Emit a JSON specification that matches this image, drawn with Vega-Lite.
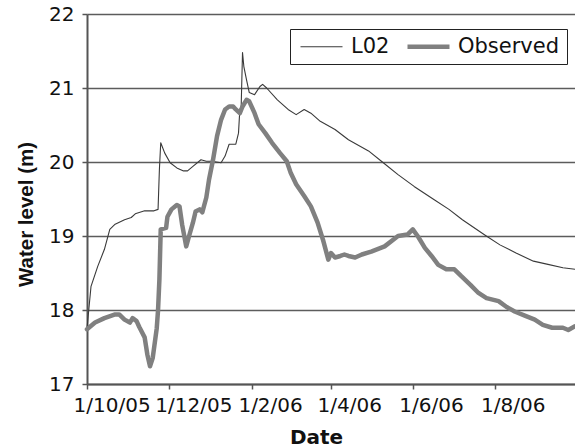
{
  "$schema": "https://vega.github.io/schema/vega-lite/v6.json",
  "width": 488,
  "height": 370,
  "autosize": "none",
  "padding": {"left": 87, "top": 14, "right": 0, "bottom": 63},
  "background": "white",
  "config": {
    "view": {"stroke": null},
    "legend": {
      "orient": "none",
      "legendX": 203,
      "legendY": 15,
      "direction": "horizontal",
      "labelFont": "DejaVu Sans",
      "labelFontSize": 21,
      "labelColor": "#111111",
      "symbolType": "M-1,0H5",
      "symbolSize": 196,
      "labelOffset": 33,
      "columnPadding": 8,
      "padding": 7,
      "strokeColor": "#222222",
      "fillColor": "white"
    }
  },
  "data": {
    "values": [
      {"date": "2005-10-01", "series": "L02", "level": 17.75},
      {"date": "2005-10-04", "series": "L02", "level": 18.32},
      {"date": "2005-10-09", "series": "L02", "level": 18.59},
      {"date": "2005-10-14", "series": "L02", "level": 18.82},
      {"date": "2005-10-18", "series": "L02", "level": 19.09},
      {"date": "2005-10-22", "series": "L02", "level": 19.16},
      {"date": "2005-10-29", "series": "L02", "level": 19.22},
      {"date": "2005-11-03", "series": "L02", "level": 19.25},
      {"date": "2005-11-06", "series": "L02", "level": 19.30},
      {"date": "2005-11-13", "series": "L02", "level": 19.34},
      {"date": "2005-11-20", "series": "L02", "level": 19.34},
      {"date": "2005-11-23", "series": "L02", "level": 19.36},
      {"date": "2005-11-24", "series": "L02", "level": 19.90},
      {"date": "2005-11-25", "series": "L02", "level": 20.26},
      {"date": "2005-11-28", "series": "L02", "level": 20.12},
      {"date": "2005-12-02", "series": "L02", "level": 19.99},
      {"date": "2005-12-07", "series": "L02", "level": 19.92},
      {"date": "2005-12-12", "series": "L02", "level": 19.88},
      {"date": "2005-12-15", "series": "L02", "level": 19.88},
      {"date": "2005-12-19", "series": "L02", "level": 19.94},
      {"date": "2005-12-25", "series": "L02", "level": 20.03},
      {"date": "2005-12-29", "series": "L02", "level": 20.01},
      {"date": "2006-01-02", "series": "L02", "level": 20.01},
      {"date": "2006-01-09", "series": "L02", "level": 19.99},
      {"date": "2006-01-12", "series": "L02", "level": 20.08},
      {"date": "2006-01-15", "series": "L02", "level": 20.24},
      {"date": "2006-01-20", "series": "L02", "level": 20.24},
      {"date": "2006-01-22", "series": "L02", "level": 20.39},
      {"date": "2006-01-23", "series": "L02", "level": 20.71},
      {"date": "2006-01-24", "series": "L02", "level": 20.75},
      {"date": "2006-01-25", "series": "L02", "level": 21.48},
      {"date": "2006-01-26", "series": "L02", "level": 21.29},
      {"date": "2006-01-28", "series": "L02", "level": 21.11},
      {"date": "2006-01-30", "series": "L02", "level": 20.94},
      {"date": "2006-02-03", "series": "L02", "level": 20.91},
      {"date": "2006-02-07", "series": "L02", "level": 21.02},
      {"date": "2006-02-09", "series": "L02", "level": 21.05},
      {"date": "2006-02-12", "series": "L02", "level": 21.00},
      {"date": "2006-02-20", "series": "L02", "level": 20.84},
      {"date": "2006-02-28", "series": "L02", "level": 20.71},
      {"date": "2006-03-06", "series": "L02", "level": 20.64},
      {"date": "2006-03-12", "series": "L02", "level": 20.71},
      {"date": "2006-03-17", "series": "L02", "level": 20.66},
      {"date": "2006-03-24", "series": "L02", "level": 20.55},
      {"date": "2006-03-31", "series": "L02", "level": 20.48},
      {"date": "2006-04-04", "series": "L02", "level": 20.44},
      {"date": "2006-04-14", "series": "L02", "level": 20.30},
      {"date": "2006-04-29", "series": "L02", "level": 20.15},
      {"date": "2006-05-10", "series": "L02", "level": 19.99},
      {"date": "2006-05-21", "series": "L02", "level": 19.83},
      {"date": "2006-06-02", "series": "L02", "level": 19.67},
      {"date": "2006-06-17", "series": "L02", "level": 19.49},
      {"date": "2006-06-28", "series": "L02", "level": 19.36},
      {"date": "2006-07-08", "series": "L02", "level": 19.22},
      {"date": "2006-07-25", "series": "L02", "level": 19.01},
      {"date": "2006-08-05", "series": "L02", "level": 18.88},
      {"date": "2006-08-17", "series": "L02", "level": 18.77},
      {"date": "2006-08-30", "series": "L02", "level": 18.66},
      {"date": "2006-09-09", "series": "L02", "level": 18.62},
      {"date": "2006-09-21", "series": "L02", "level": 18.57},
      {"date": "2006-09-30", "series": "L02", "level": 18.55},
      {"date": "2005-10-01", "series": "Observed", "level": 17.74},
      {"date": "2005-10-07", "series": "Observed", "level": 17.83},
      {"date": "2005-10-14", "series": "Observed", "level": 17.89},
      {"date": "2005-10-22", "series": "Observed", "level": 17.94},
      {"date": "2005-10-25", "series": "Observed", "level": 17.94},
      {"date": "2005-10-29", "series": "Observed", "level": 17.87},
      {"date": "2005-11-02", "series": "Observed", "level": 17.83},
      {"date": "2005-11-04", "series": "Observed", "level": 17.89},
      {"date": "2005-11-07", "series": "Observed", "level": 17.85},
      {"date": "2005-11-09", "series": "Observed", "level": 17.77},
      {"date": "2005-11-13", "series": "Observed", "level": 17.63},
      {"date": "2005-11-15", "series": "Observed", "level": 17.40},
      {"date": "2005-11-17", "series": "Observed", "level": 17.24},
      {"date": "2005-11-19", "series": "Observed", "level": 17.35},
      {"date": "2005-11-22", "series": "Observed", "level": 17.75},
      {"date": "2005-11-23", "series": "Observed", "level": 18.00},
      {"date": "2005-11-24", "series": "Observed", "level": 18.41},
      {"date": "2005-11-25", "series": "Observed", "level": 19.09},
      {"date": "2005-11-29", "series": "Observed", "level": 19.11},
      {"date": "2005-11-30", "series": "Observed", "level": 19.26},
      {"date": "2005-12-03", "series": "Observed", "level": 19.36},
      {"date": "2005-12-07", "series": "Observed", "level": 19.42},
      {"date": "2005-12-09", "series": "Observed", "level": 19.40},
      {"date": "2005-12-11", "series": "Observed", "level": 19.15},
      {"date": "2005-12-14", "series": "Observed", "level": 18.86},
      {"date": "2005-12-16", "series": "Observed", "level": 18.99},
      {"date": "2005-12-19", "series": "Observed", "level": 19.18},
      {"date": "2005-12-21", "series": "Observed", "level": 19.33},
      {"date": "2005-12-24", "series": "Observed", "level": 19.36},
      {"date": "2005-12-26", "series": "Observed", "level": 19.32},
      {"date": "2005-12-29", "series": "Observed", "level": 19.52},
      {"date": "2005-12-31", "series": "Observed", "level": 19.76},
      {"date": "2006-01-03", "series": "Observed", "level": 20.03},
      {"date": "2006-01-06", "series": "Observed", "level": 20.35},
      {"date": "2006-01-09", "series": "Observed", "level": 20.57},
      {"date": "2006-01-12", "series": "Observed", "level": 20.71},
      {"date": "2006-01-15", "series": "Observed", "level": 20.75},
      {"date": "2006-01-18", "series": "Observed", "level": 20.75},
      {"date": "2006-01-20", "series": "Observed", "level": 20.71},
      {"date": "2006-01-23", "series": "Observed", "level": 20.66},
      {"date": "2006-01-25", "series": "Observed", "level": 20.75},
      {"date": "2006-01-28", "series": "Observed", "level": 20.84},
      {"date": "2006-01-30", "series": "Observed", "level": 20.82},
      {"date": "2006-02-03", "series": "Observed", "level": 20.66},
      {"date": "2006-02-06", "series": "Observed", "level": 20.51},
      {"date": "2006-02-11", "series": "Observed", "level": 20.39},
      {"date": "2006-02-16", "series": "Observed", "level": 20.26},
      {"date": "2006-02-22", "series": "Observed", "level": 20.12},
      {"date": "2006-02-27", "series": "Observed", "level": 20.01},
      {"date": "2006-03-02", "series": "Observed", "level": 19.85},
      {"date": "2006-03-06", "series": "Observed", "level": 19.70},
      {"date": "2006-03-12", "series": "Observed", "level": 19.54},
      {"date": "2006-03-17", "series": "Observed", "level": 19.40},
      {"date": "2006-03-22", "series": "Observed", "level": 19.18},
      {"date": "2006-03-26", "series": "Observed", "level": 18.95},
      {"date": "2006-03-30", "series": "Observed", "level": 18.68},
      {"date": "2006-04-01", "series": "Observed", "level": 18.77},
      {"date": "2006-04-04", "series": "Observed", "level": 18.71},
      {"date": "2006-04-08", "series": "Observed", "level": 18.73},
      {"date": "2006-04-11", "series": "Observed", "level": 18.75},
      {"date": "2006-04-14", "series": "Observed", "level": 18.73},
      {"date": "2006-04-19", "series": "Observed", "level": 18.71},
      {"date": "2006-04-24", "series": "Observed", "level": 18.75},
      {"date": "2006-05-01", "series": "Observed", "level": 18.79},
      {"date": "2006-05-11", "series": "Observed", "level": 18.86},
      {"date": "2006-05-21", "series": "Observed", "level": 19.00},
      {"date": "2006-05-28", "series": "Observed", "level": 19.02},
      {"date": "2006-06-01", "series": "Observed", "level": 19.09},
      {"date": "2006-06-05", "series": "Observed", "level": 18.99},
      {"date": "2006-06-10", "series": "Observed", "level": 18.84},
      {"date": "2006-06-15", "series": "Observed", "level": 18.73},
      {"date": "2006-06-20", "series": "Observed", "level": 18.61},
      {"date": "2006-06-26", "series": "Observed", "level": 18.55},
      {"date": "2006-07-02", "series": "Observed", "level": 18.55},
      {"date": "2006-07-07", "series": "Observed", "level": 18.46},
      {"date": "2006-07-14", "series": "Observed", "level": 18.34},
      {"date": "2006-07-20", "series": "Observed", "level": 18.23},
      {"date": "2006-07-26", "series": "Observed", "level": 18.16},
      {"date": "2006-08-04", "series": "Observed", "level": 18.12},
      {"date": "2006-08-10", "series": "Observed", "level": 18.04},
      {"date": "2006-08-16", "series": "Observed", "level": 17.98},
      {"date": "2006-08-24", "series": "Observed", "level": 17.92},
      {"date": "2006-08-31", "series": "Observed", "level": 17.87},
      {"date": "2006-09-06", "series": "Observed", "level": 17.80},
      {"date": "2006-09-13", "series": "Observed", "level": 17.76},
      {"date": "2006-09-21", "series": "Observed", "level": 17.76},
      {"date": "2006-09-25", "series": "Observed", "level": 17.73},
      {"date": "2006-09-30", "series": "Observed", "level": 17.78}
    ]
  },
  "mark": {"type": "line", "strokeJoin": "round", "strokeCap": "round"},
  "encoding": {
    "x": {
      "field": "date",
      "type": "temporal",
      "scale": {
        "type": "utc",
        "domain": [
          {"year": 2005, "month": 10, "date": 1, "utc": true},
          {"year": 2006, "month": 9, "date": 30, "utc": true}
        ]
      },
      "axis": {
        "values": [
          {"year": 2005, "month": 10, "date": 1, "utc": true},
          {"year": 2005, "month": 12, "date": 1, "utc": true},
          {"year": 2006, "month": 2, "date": 1, "utc": true},
          {"year": 2006, "month": 4, "date": 1, "utc": true},
          {"year": 2006, "month": 6, "date": 1, "utc": true},
          {"year": 2006, "month": 8, "date": 1, "utc": true}
        ],
        "labelExpr": "utcFormat(datum.value, '%-d/%-m/%y')",
        "grid": false,
        "title": "Date",
        "titleFont": "DejaVu Sans",
        "titleFontWeight": "bold",
        "titleFontSize": 20,
        "titleColor": "#111111",
        "titleX": 229,
        "titleY": 59,
        "titleAlign": "center",
        "titleBaseline": "alphabetic",
        "labelFont": "DejaVu Sans",
        "labelFontSize": 20,
        "labelColor": "#111111",
        "labelAlign": "left",
        "labelOffset": -14,
        "labelPadding": 6,
        "labelOverlap": false,
        "labelFlush": false,
        "labelBound": false,
        "tickSize": 5,
        "tickColor": "#555555",
        "tickWidth": 1.5,
        "domainColor": "#555555",
        "domainWidth": 2
      }
    },
    "y": {
      "field": "level",
      "type": "quantitative",
      "scale": {"domain": [17, 22], "nice": false, "zero": false},
      "axis": {
        "values": [17, 18, 19, 20, 21, 22],
        "grid": true,
        "gridColor": "#5c5c5c",
        "gridWidth": 1.5,
        "title": "Water level (m)",
        "titleFont": "Liberation Sans",
        "titleFontWeight": "bold",
        "titleFontSize": 20.5,
        "titleColor": "#111111",
        "titleX": -55,
        "titleY": 200,
        "titleAlign": "center",
        "titleBaseline": "alphabetic",
        "labelFont": "DejaVu Sans",
        "labelFontSize": 20,
        "labelColor": "#111111",
        "labelPadding": 8,
        "tickSize": 5,
        "tickColor": "#555555",
        "tickWidth": 1.5,
        "domainColor": "#555555",
        "domainWidth": 2
      }
    },
    "color": {
      "field": "series",
      "type": "nominal",
      "scale": {"domain": ["L02", "Observed"], "range": ["#3a3a3a", "#808080"]},
      "legend": {"title": null}
    },
    "strokeWidth": {
      "field": "series",
      "type": "nominal",
      "scale": {"domain": ["L02", "Observed"], "range": [1.1, 4.5]},
      "legend": {"title": null}
    }
  }
}
